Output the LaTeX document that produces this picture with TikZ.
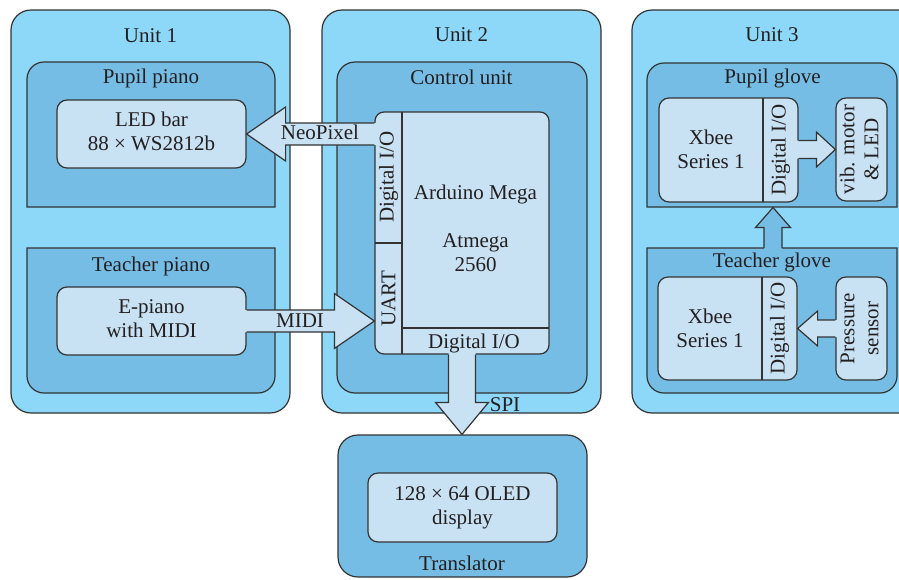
\documentclass[tikz,border=0pt]{standalone}
\usepackage{fontspec}
\setmainfont{Liberation Serif}
\usetikzlibrary{calc}
\definecolor{outerc}{RGB}{141,216,248}
\definecolor{midc}{RGB}{118,189,230}
\definecolor{innerc}{RGB}{200,226,244}
\definecolor{linec}{RGB}{51,51,51}
\definecolor{txtc}{RGB}{35,31,32}
\newcommand\hArrow[6]{%
 \fill[fill=#6] let \p1=(#1), \p2=(#2), \n1={ifthenelse(\x2>\x1,1,-1)} in
  ({\x1-(\n1)*1.5pt},{\y2+#3}) -- ({\x2-(\n1)*#5},{\y2+#3}) -- ({\x2-(\n1)*#5},{\y2+#4}) -- (\x2,\y2)
  -- ({\x2-(\n1)*#5},{\y2-#4}) -- ({\x2-(\n1)*#5},{\y2-#3}) -- ({\x1-(\n1)*1.5pt},{\y2-#3}) -- cycle;
 \draw[edge, line join=miter] let \p1=(#1), \p2=(#2), \n1={ifthenelse(\x2>\x1,1,-1)} in
  (\x1,{\y2+#3}) -- ({\x2-(\n1)*#5},{\y2+#3}) -- ({\x2-(\n1)*#5},{\y2+#4}) -- (\x2,\y2)
  -- ({\x2-(\n1)*#5},{\y2-#4}) -- ({\x2-(\n1)*#5},{\y2-#3}) -- (\x1,{\y2-#3});
}
\newcommand\vArrow[6]{%
 \fill[fill=#6] let \p1=(#1), \p2=(#2), \n1={ifthenelse(\y2>\y1,1,-1)} in
  ({\x2+#3},{\y1-(\n1)*1.5pt}) -- ({\x2+#3},{\y2-(\n1)*#5}) -- ({\x2+#4},{\y2-(\n1)*#5}) -- (\x2,\y2)
  -- ({\x2-#4},{\y2-(\n1)*#5}) -- ({\x2-#3},{\y2-(\n1)*#5}) -- ({\x2-#3},{\y1-(\n1)*1.5pt}) -- cycle;
 \draw[edge, line join=miter] let \p1=(#1), \p2=(#2), \n1={ifthenelse(\y2>\y1,1,-1)} in
  ({\x2+#3},\y1) -- ({\x2+#3},{\y2-(\n1)*#5}) -- ({\x2+#4},{\y2-(\n1)*#5}) -- (\x2,\y2)
  -- ({\x2-#4},{\y2-(\n1)*#5}) -- ({\x2-#3},{\y2-(\n1)*#5}) -- ({\x2-#3},\y1);
}
\tikzset{
 edge/.style={draw=linec, line width=1.2pt},
 unitbox/.style={edge, fill=outerc, rounded corners=20pt, inner sep=0pt},
 midbox/.style={edge, fill=midc, rounded corners=18pt, inner sep=0pt},
 inbox/.style={edge, fill=innerc, rounded corners=10pt, inner sep=0pt},
 lbl/.style={inner sep=0pt, anchor=base, text=txtc},
 mlbl/.style={inner sep=0pt, anchor=center, align=center, text=txtc},
 rlbl/.style={inner sep=0pt, anchor=center, align=center, text=txtc, rotate=90},
}
\begin{document}
\begin{tikzpicture}[x=1pt, y=-1pt, every node/.style={font=\fontsize{21}{24}\selectfont}]
\useasboundingbox (0,0) rectangle (899,579);
\fill[white] (0,0) rectangle (899,579);
\clip (0,0) rectangle (899,579);

% units
\node[unitbox, minimum width=279pt, minimum height=403pt] (u1) at (150.5,211.5) {};
\node[unitbox, minimum width=279pt, minimum height=403pt] (u2) at (461.5,211.5) {};
\node[unitbox, minimum width=288pt, minimum height=403pt] (u3) at (776,211.5) {};

% unit 1 sub boxes
\draw[edge, fill=midc] (27,207) -- (27,79) arc[start angle=180, end angle=270, radius=17] -- (258,62)
  arc[start angle=270, end angle=360, radius=17] -- (275,207) -- cycle;
\draw[edge, fill=midc] (27,248) -- (275,248) -- (275,376) arc[start angle=0, end angle=90, radius=17] -- (44,393)
  arc[start angle=90, end angle=180, radius=17] -- cycle;
\node[inbox, minimum width=189pt, minimum height=68pt] (led) at (151.5,134) {};
\node[inbox, minimum width=189pt, minimum height=68pt] (epiano) at (151.5,321) {};

% unit 2
\node[midbox, minimum width=250pt, minimum height=331pt] (ctrl) at (462,227.5) {};
\node[inbox, rounded corners=9pt, minimum width=174pt, minimum height=242pt] (ard) at (462,233) {};
\draw[edge] (402,112) -- (402,354);
\draw[edge] (375,243) -- (402,243);
\draw[edge] (402,328) -- (549,328);

% translator
\node[midbox, rounded corners=20pt, minimum width=249pt, minimum height=142pt] (trans) at (462.5,506) {};
\node[inbox, minimum width=189pt, minimum height=69pt] (oled) at (462.5,507.5) {};

% unit 3
\draw[edge, fill=midc] (647,207) -- (647,80) arc[start angle=180, end angle=270, radius=17] -- (880,63)
  arc[start angle=270, end angle=360, radius=17] -- (897,207) -- cycle;
\draw[edge, fill=midc] (647,248) -- (897,248) -- (897,376) arc[start angle=0, end angle=90, radius=17] -- (664,393)
  arc[start angle=90, end angle=180, radius=17] -- cycle;
\node[inbox, minimum width=139pt, minimum height=104pt] (xbee1) at (728.5,150) {};
\draw[edge] (763,98) -- (763,202);
\node[inbox, minimum width=51pt, minimum height=103pt] (vib) at (861.5,149.5) {};
\node[inbox, minimum width=139pt, minimum height=103pt] (xbee2) at (727.5,328.5) {};
\draw[edge] (762,277) -- (762,380);
\node[inbox, minimum width=51pt, minimum height=103pt] (pres) at (861.5,328.5) {};
\coordinate (tgtop) at (773,248);
\coordinate (pgbot) at (773,207.5);

% arrows
\hArrow{ard.west}{led.east}{11pt}{27pt}{39pt}{innerc}
\hArrow{epiano.east}{ard.west |- epiano.east}{11pt}{27.5pt}{40pt}{innerc}
\vArrow{ard.south}{ard.south |- trans.north}{13.5pt}{26.5pt}{32pt}{innerc}
\hArrow{xbee1.east}{vib.west}{9pt}{17.5pt}{19pt}{innerc}
\hArrow{pres.west}{xbee2.east}{8.5pt}{17.5pt}{20pt}{innerc}
\vArrow{tgtop}{pgbot}{9pt}{17.5pt}{20pt}{midc}

% labels
\node[lbl] (tu1) at (150.5,42) {Unit 1};
\node[lbl] (tu2) at (461.5,41) {Unit 2};
\node[lbl] (tu3) at (772,41) {Unit 3};
\node[lbl] (tpp) at (151,83) {Pupil piano};
\node[lbl] (ttp) at (151,271) {Teacher piano};
\node[mlbl] (tled) at (151.5,133.7) {\strut LED bar\\\strut 88 × WS2812b};
\node[mlbl] (tep) at (151.5,320.2) {\strut E-piano\\\strut with MIDI};
\node[lbl] (tcu) at (461.5,84) {Control unit};
\node[mlbl] (tard) at (475.5,230.2) {\strut Arduino Mega\\\strut\\\strut Atmega\\\strut 2560};
\node[rlbl] (tdio1) at (388.5,177) {Digital I/O};
\node[rlbl] (tuart) at (388.5,298.5) {UART};
\node[lbl] (tdio2) at (474,348) {Digital I/O};
\node[lbl] (tneo) at (320,139) {NeoPixel};
\node[lbl] (tmidi) at (300,327) {MIDI};
\node[lbl] (tspi) at (505,411) {SPI};
\node[mlbl] (toled) at (462.5,507.7) {\strut 128 × 64 OLED\\\strut display};
\node[lbl] (ttr) at (462,570) {Translator};
\node[lbl] (tpg) at (772.5,83) {Pupil glove};
\node[lbl] (ttg) at (772,267) {Teacher glove};
\node[mlbl] (tx1) at (711,151.2) {\strut Xbee\\\strut Series 1};
\node[mlbl] (tx2) at (710,330.7) {\strut Xbee\\\strut Series 1};
\node[rlbl] (tdio3) at (780.5,150) {Digital I/O};
\node[rlbl] (tdio4) at (779.5,328.5) {Digital I/O};
\node[rlbl] (tvib) at (861.5,149.5) {\strut vib. motor\\\strut \& LED};
\node[rlbl] (tpres) at (861.5,328.5) {\strut Pressure\\\strut sensor};
\end{tikzpicture}
\end{document}
